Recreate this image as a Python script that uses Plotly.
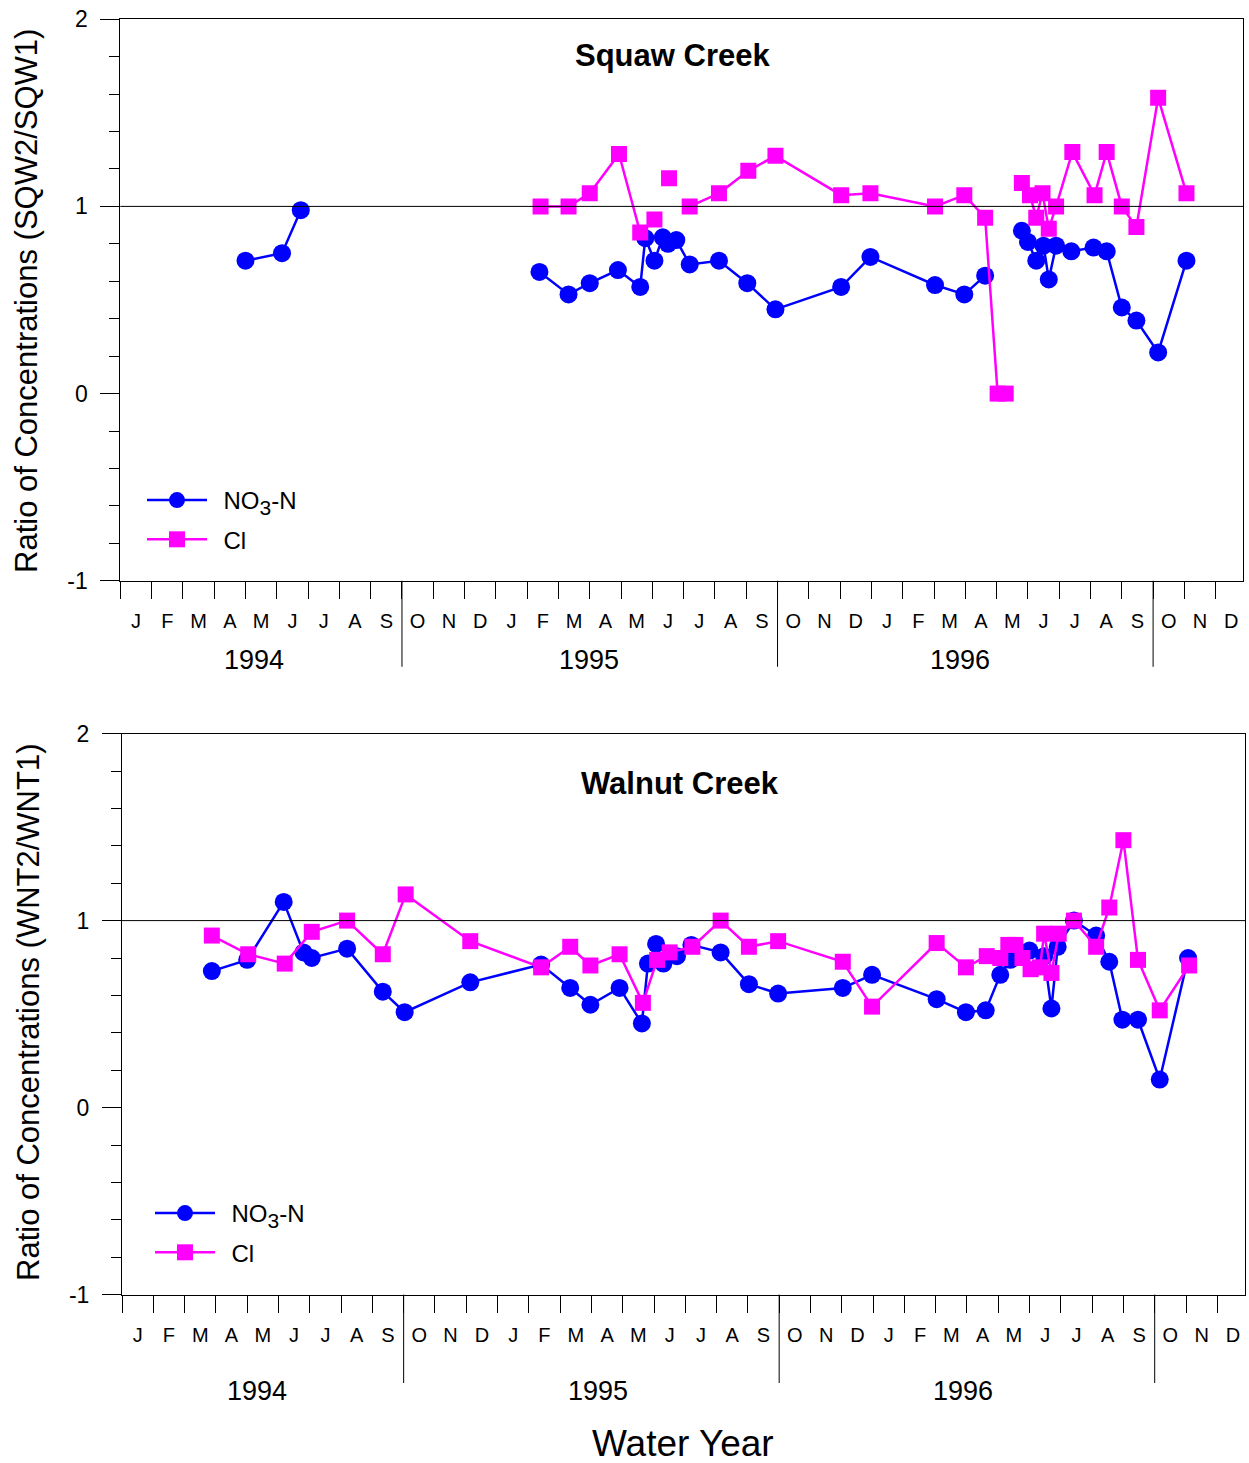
import calendar
import plotly.graph_objects as go
import numpy as np

W, H = 1249, 1463
FONT = "Arial, Liberation Sans, sans-serif"
BLUE = "#0000FF"
MAG = "#FF00FF"

# ---------------- data: Squaw Creek (SQW2/SQW1) ----------------
sq_no3_dates = ["1994-05-01", "1994-06-06", "1994-06-24", None,
                "1995-02-12", "1995-03-11", "1995-04-01", "1995-04-28", "1995-05-20",
                "1995-05-25", "1995-06-03", "1995-06-11", "1995-06-16", "1995-06-24",
                "1995-07-07", "1995-08-05", "1995-09-02", "1995-09-29", "1995-12-02",
                "1995-12-31", "1996-03-02", "1996-03-31", "1996-04-20", None,
                "1996-05-26", "1996-06-01", "1996-06-09", "1996-06-16", "1996-06-21",
                "1996-06-28", "1996-07-13", "1996-08-04", "1996-08-17", "1996-09-01",
                "1996-09-15", "1996-10-06", "1996-11-03"]
sq_no3_vals = [0.71, 0.75, 0.98, None,
               0.65, 0.53, 0.59, 0.66, 0.57,
               0.83, 0.71, 0.835, 0.80, 0.82,
               0.69, 0.71, 0.59, 0.45, 0.57,
               0.73, 0.58, 0.53, 0.63, None,
               0.87, 0.81, 0.71, 0.79, 0.61,
               0.79, 0.76, 0.78, 0.76, 0.46,
               0.39, 0.22, 0.71]

sq_cl_dates = ["1995-02-13", "1995-03-11", "1995-04-01", "1995-04-29", "1995-05-20",
               "1995-06-03", None, "1995-06-17", None,
               "1995-07-07", "1995-08-05", "1995-09-03", "1995-09-29", "1995-12-02",
               "1995-12-31", "1996-03-02", "1996-03-31", "1996-04-20", "1996-05-02",
               "1996-05-10", None,
               "1996-05-26", "1996-06-03", "1996-06-09", "1996-06-15", "1996-06-21",
               "1996-06-28", "1996-07-14", "1996-08-05", "1996-08-17", "1996-09-01",
               "1996-09-15", "1996-10-06", "1996-11-03"]
sq_cl_vals = [1.0, 1.0, 1.07, 1.28, 0.86,
              0.93, None, 1.15, None,
              1.0, 1.07, 1.19, 1.27, 1.06,
              1.07, 1.0, 1.06, 0.94, 0.0,
              0.0, None,
              1.125, 1.06, 0.94, 1.07, 0.88,
              1.0, 1.29, 1.06, 1.29, 1.0,
              0.89, 1.58, 1.07]

# ---------------- data: Walnut Creek (WNT2/WNT1) ----------------
wn_no3_dates = ["1994-03-28", "1994-05-01", "1994-06-06", "1994-06-25", "1994-07-03",
                "1994-08-07", "1994-09-11", "1994-10-02", "1994-12-05", "1995-02-12",
                "1995-03-11", "1995-03-31", "1995-04-28", "1995-05-20", "1995-05-26",
                "1995-06-03", "1995-06-10", "1995-06-23", "1995-07-07", "1995-08-05",
                "1995-09-02", "1995-09-30", "1995-12-02", "1995-12-31", "1996-03-02",
                "1996-03-31", "1996-04-19", "1996-05-03", "1996-05-13", "1996-06-01",
                "1996-06-15", "1996-06-22", "1996-06-28", "1996-07-14", "1996-08-05",
                "1996-08-18", "1996-08-31", "1996-09-15", "1996-10-06", "1996-11-03"]
wn_no3_vals = [0.73, 0.79, 1.10, 0.83, 0.80,
               0.85, 0.62, 0.51, 0.67, 0.765,
               0.64, 0.55, 0.64, 0.45, 0.77,
               0.875, 0.77, 0.81, 0.87, 0.83,
               0.66, 0.61, 0.64, 0.71, 0.58,
               0.51, 0.52, 0.71, 0.79, 0.84,
               0.81, 0.53, 0.86, 1.0, 0.92,
               0.78, 0.47, 0.47, 0.15, 0.80]

wn_cl_dates = ["1994-03-28", "1994-05-02", "1994-06-07", "1994-07-03", "1994-08-07",
               "1994-09-11", "1994-10-03", "1994-12-05", "1995-02-12", "1995-03-11",
               "1995-03-31", "1995-04-28", "1995-05-21", "1995-06-04", "1995-06-16",
               "1995-07-08", "1995-08-05", "1995-09-02", "1995-09-30", "1995-12-02",
               "1995-12-31", "1996-03-02", "1996-03-31", "1996-04-20", "1996-05-03",
               "1996-05-11", "1996-05-18", "1996-05-25", "1996-06-02", "1996-06-11",
               "1996-06-15", "1996-06-22", "1996-06-29", "1996-07-14", "1996-08-05",
               "1996-08-18", "1996-09-01", "1996-09-15", "1996-10-06", "1996-11-04"]
wn_cl_vals = [0.92, 0.82, 0.77, 0.94, 1.0,
              0.82, 1.14, 0.89, 0.75, 0.86,
              0.76, 0.82, 0.56, 0.79, 0.83,
              0.86, 1.0, 0.86, 0.89, 0.78,
              0.54, 0.88, 0.75, 0.81, 0.80,
              0.87, 0.87, 0.80, 0.74, 0.75,
              0.93, 0.72, 0.93, 1.0, 0.86,
              1.07, 1.43, 0.79, 0.52, 0.76]

# ---------------- axis labels ----------------
month_letters = ["J", "F", "M", "A", "M", "J", "J", "A", "S", "O", "N", "D"] * 3
year_labels = ["1994", "1995", "1996"]
year_pos_top = [4.27, 14.97, 26.83]      # in months since Jan 1994
year_pos_bot = [4.31, 15.21, 26.87]
water_year_starts = ["1994-10-01", "1995-10-01", "1996-10-01"]
y_major = [-1, 0, 1, 2]


def month_index(d):
    """Date string -> months since 1 Jan 1994 (uniform month axis)."""
    if d is None:
        return None
    y, m, dd = (int(p) for p in d.split("-"))
    ndays = calendar.monthrange(y, m)[1]
    return (y - 1994) * 12 + (m - 1) + (dd - 1) / ndays


n_months = 36
month_starts = list(range(n_months))
month_mids = [k + 0.5 for k in range(n_months)]
y_minor = [float(v) for v in np.round(np.arange(-1, 2.0001, 0.2), 1)]

fig = go.Figure()


def add(ds, ys, name, color, symbol, size, xa, ya, legend):
    fig.add_trace(go.Scatter(
        x=[month_index(d) for d in ds], y=ys, mode="lines+markers", name=name,
        customdata=ds, hovertemplate="%{customdata}: %{y}<extra></extra>",
        line=dict(color=color, width=2.5),
        marker=dict(symbol=symbol, size=size, color=color, line=dict(width=0)),
        xaxis=xa, yaxis=ya, legend=legend, legendgroup=name + legend,
        connectgaps=False, showlegend=True))


NB = "\u00a0\u2009"
NO3 = NB + "NO<sub><span style='font-size:21px'>3</span></sub>-N"
CL = NB + "Cl"
add(sq_no3_dates, sq_no3_vals, NO3, BLUE, "circle", 18, "x", "y", "legend")
add(sq_cl_dates, sq_cl_vals, CL, MAG, "square", 16, "x", "y", "legend")
add(wn_no3_dates, wn_no3_vals, NO3, BLUE, "circle", 18, "x2", "y2", "legend2")
add(wn_cl_dates, wn_cl_vals, CL, MAG, "square", 16, "x2", "y2", "legend2")


def xcfg(domain, anchor, xmax):
    return dict(
        domain=domain, anchor=anchor, range=[0, xmax],
        tickmode="array", tickvals=month_mids, ticktext=month_letters,
        ticks="", ticklabelstandoff=22,
        tickfont=dict(size=20, family=FONT, color="black"),
        minor=dict(tickmode="array", tickvals=month_starts,
                   ticks="outside", ticklen=17, tickwidth=1, tickcolor="black",
                   showgrid=False),
        showline=True, linecolor="black", linewidth=1, mirror=True,
        showgrid=False, zeroline=False, automargin=False, fixedrange=True)


def ycfg(domain, anchor):
    return dict(
        domain=domain, anchor=anchor, range=[-1, 2],
        tickmode="array", tickvals=y_major, ticktext=[str(v) for v in y_major],
        ticks="outside", ticklen=19, tickwidth=1, tickcolor="black",
        ticklabelstandoff=8,
        tickfont=dict(size=23, family=FONT, color="black"),
        minor=dict(tickmode="array", tickvals=y_minor, ticks="outside",
                   ticklen=10, tickwidth=1, tickcolor="black", showgrid=False),
        showline=True, linecolor="black", linewidth=1, mirror=True,
        showgrid=False, zeroline=False, automargin=False, fixedrange=True)


top_x = [120.3 / W, 1243.3 / W]
bot_x = [122 / W, 1245 / W]
top_y = [1 - 580.8 / H, 1 - 19.2 / H]
bot_y = [1 - 1294.6 / H, 1 - 733.6 / H]

shapes = []
for xr, yr in (("x", "y"), ("x2", "y2")):
    shapes.append(dict(type="line", xref=xr + " domain", yref=yr, x0=0, x1=1, y0=1, y1=1,
                       line=dict(color="black", width=1)))
for d in water_year_starts:
    xm = month_index(d)
    shapes.append(dict(type="line", xref="x", yref="y domain", x0=xm, x1=xm, y0=0, y1=-86 / 561.6,
                       line=dict(color="black", width=1)))
    shapes.append(dict(type="line", xref="x2", yref="y2 domain", x0=xm, x1=xm, y0=0, y1=-88.4 / 561,
                       line=dict(color="black", width=1)))

ann = []
for lab, xp in zip(year_labels, year_pos_top):
    ann.append(dict(text=lab, x=xp, xref="x", y=1 - 660 / H, yref="paper", showarrow=False,
                    xanchor="center", yanchor="middle", font=dict(size=27, family=FONT, color="black")))
for lab, xp in zip(year_labels, year_pos_bot):
    ann.append(dict(text=lab, x=xp, xref="x2", y=1 - 1391 / H, yref="paper", showarrow=False,
                    xanchor="center", yanchor="middle", font=dict(size=27, family=FONT, color="black")))
ann += [
    dict(text="<b>Squaw Creek</b>", x=672 / W, y=1 - 55 / H, xref="paper", yref="paper",
         showarrow=False, xanchor="center", yanchor="middle",
         font=dict(size=31, family=FONT, color="black")),
    dict(text="<b>Walnut Creek</b>", x=680 / W, y=1 - 783 / H, xref="paper", yref="paper",
         showarrow=False, xanchor="center", yanchor="middle",
         font=dict(size=31, family=FONT, color="black")),
    dict(text="Ratio of Concentrations (SQW2/SQW1)", x=27 / W, y=1 - 301 / H,
         xref="paper", yref="paper", showarrow=False, textangle=-90,
         xanchor="center", yanchor="middle", font=dict(size=31, family=FONT, color="black")),
    dict(text="Ratio of Concentrations (WNT2/WNT1)", x=28 / W, y=1 - 1013 / H,
         xref="paper", yref="paper", showarrow=False, textangle=-90,
         xanchor="center", yanchor="middle", font=dict(size=31, family=FONT, color="black")),
    dict(text="Water Year", x=683 / W, y=1 - 1443 / H, xref="paper", yref="paper",
         showarrow=False, xanchor="center", yanchor="middle",
         font=dict(size=37, family=FONT, color="black")),
]

leg_common = dict(xanchor="left", yanchor="top", bgcolor="rgba(0,0,0,0)",
                  font=dict(size=24, family=FONT, color="black"),
                  itemwidth=60, tracegroupgap=5, itemsizing="trace")

fig.update_layout(
    width=W, height=H, margin=dict(l=0, r=0, t=0, b=0),
    paper_bgcolor="white", plot_bgcolor="white",
    xaxis=xcfg(top_x, "y", (1243.3 - 120.3) / 31.297),
    yaxis=ycfg(top_y, "x"),
    xaxis2=xcfg(bot_x, "y2", (1245 - 122) / 31.294),
    yaxis2=ycfg(bot_y, "x2"),
    shapes=shapes, annotations=ann,
    legend=dict(x=142 / W, y=1 - 478 / H, **leg_common),
    legend2=dict(x=150 / W, y=1 - 1191 / H, **leg_common),
)

fig.write_html("out.html")
